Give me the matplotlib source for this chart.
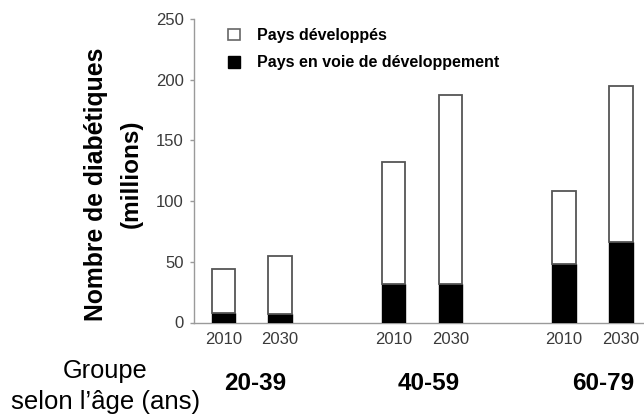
import matplotlib
matplotlib.use("Agg")
import matplotlib.pyplot as plt
from matplotlib.patches import Patch

plt.rcParams['font.family'] = ['Liberation Sans', 'DejaVu Sans']

# Data
years = ["2010", "2030", "2010", "2030", "2010", "2030"]
groups = ["20-39", "40-59", "60-79"]
developing = [8, 7, 32, 32, 48, 66]          # black, bottom
developed = [36, 48, 100, 155, 60, 129]      # white, top
positions = [0, 1, 3, 4, 6, 7]
yticks = [0, 50, 100, 150, 200, 250]

W, H = 644, 417
fig = plt.figure(figsize=(W / 100, H / 100), dpi=100)
left_px, bottom_px, top_px = 193.5, 94.5, 398
ax = fig.add_axes([left_px / W, bottom_px / H, 1 - left_px / W, (top_px - bottom_px) / H])

bw = 0.41
ax.bar(positions, developing, width=bw, color='black', edgecolor='black', linewidth=1.0, zorder=3)
ax.bar(positions, developed, width=bw, bottom=developing, color='white', edgecolor='#555555',
       linewidth=1.3, zorder=3)

ax.set_xlim(-0.525, 7.407)
ax.set_ylim(0, 250)
ax.set_yticks(yticks)
ax.set_xticks(positions)
ax.set_xticklabels(years)

for s in ['top', 'right']:
    ax.spines[s].set_visible(False)
for s in ['left', 'bottom']:
    ax.spines[s].set_color('#9a9a9a')
    ax.spines[s].set_linewidth(1.0)

ax.tick_params(axis='y', length=3.2, width=1.0, color='#9a9a9a', labelsize=12,
               labelcolor='#3a3a3a', pad=4)
ax.tick_params(axis='x', length=0, labelsize=12, labelcolor='#3a3a3a', pad=6.5)

handles = [Patch(facecolor='white', edgecolor='#666666', linewidth=1.2, label='Pays développés'),
           Patch(facecolor='black', edgecolor='black', linewidth=1.0, label='Pays en voie de développement')]
ax.legend(handles=handles, loc='upper left', bbox_to_anchor=(228 / W, 1 - 28 / H),
          bbox_transform=fig.transFigure, frameon=False,
          prop={'weight': 'bold', 'size': 11.5}, handlelength=0.75, handleheight=0.75,
          handletextpad=1.05, labelspacing=0.78, borderpad=0, borderaxespad=0)

# Y label (two lines)
fig.text(96 / W, 1 - 184.5 / H, "Nombre de diabétiques", rotation=90, ha='center', va='center',
         fontsize=17.8, fontweight='bold', color='black')
fig.text(131.5 / W, 1 - 174 / H, "(millions)", rotation=90, ha='center', va='center',
         fontsize=17.5, fontweight='bold', color='black')

# Group labels
group_x_px = [255, 428.5, 603]
for g, gx in zip(groups, group_x_px):
    fig.text(gx / W, 1 - 384 / H, g, ha='center', va='center', fontsize=17.5,
             fontweight='bold', color='black')

fig.text(105 / W, 1 - 371 / H, "Groupe", ha='center', va='center', fontsize=18.3, color='black')
fig.text(106 / W, 1 - 402 / H, "selon l’âge (ans)", ha='center', va='center', fontsize=18.5,
         color='black')

fig.savefig("out.png", dpi=100)
